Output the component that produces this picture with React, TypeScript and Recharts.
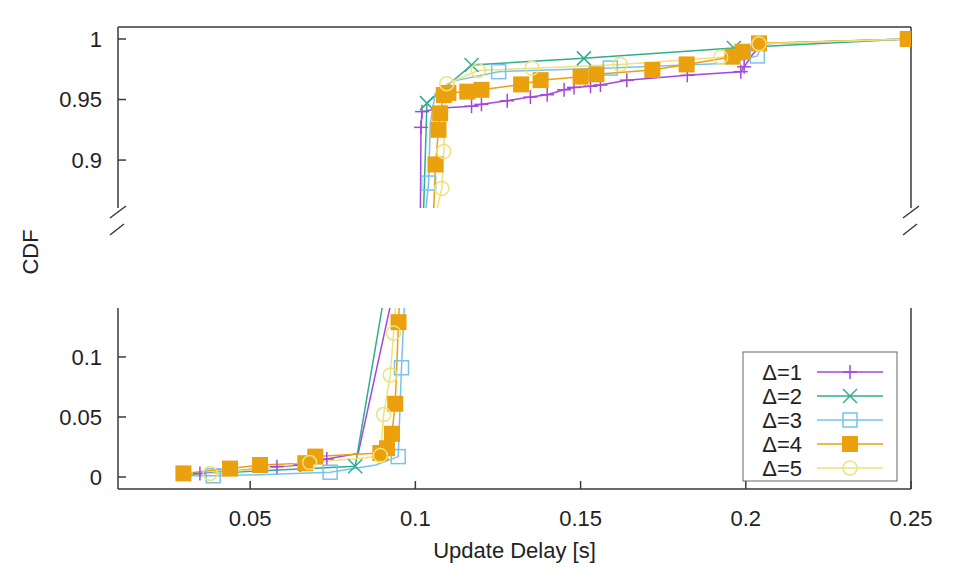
import React from "react";
import { ComposedChart, Line, Scatter, XAxis, YAxis } from "recharts";

type Pt = { x: number; y: number };
const pts = (a: number[][]): Pt[] => a.map(([x, y]) => ({ x, y }));

const xTicks = [0.05, 0.1, 0.15, 0.2, 0.25];
const topTicks = [0.9, 0.95, 1];
const bottomTicks = [0, 0.05, 0.1];

const names = ["Δ=1", "Δ=2", "Δ=3", "Δ=4", "Δ=5"];
const colors = ["#a347e0", "#2fae8c", "#78c2ee", "#eba00e", "#eee27a"];
const shapes = ["plus", "cross", "square", "filled", "circle"];

// delta = 1
const d1Line = pts([
  [0.03, 0.002], [0.0348, 0.003], [0.045, 0.005], [0.0581, 0.0086], [0.0652, 0.01],
  [0.0732, 0.015], [0.0827, 0.0196], [0.093, 0.15], [0.1015, 0.85], [0.1017, 0.927],
  [0.102, 0.94], [0.108, 0.943], [0.117, 0.9445], [0.12, 0.946], [0.1278, 0.949],
  [0.1348, 0.952], [0.1399, 0.954], [0.145, 0.958], [0.148, 0.96], [0.153, 0.961],
  [0.156, 0.962], [0.164, 0.966], [0.1823, 0.97], [0.1985, 0.973], [0.1995, 0.977],
  [0.202, 0.987], [0.205, 0.996], [0.249, 1.0],
]);
const d1Marks = pts([
  [0.0348, 0.003], [0.0581, 0.0086], [0.0652, 0.01], [0.0732, 0.015], [0.1017, 0.927],
  [0.102, 0.94], [0.117, 0.9445], [0.12, 0.946], [0.1278, 0.949], [0.1348, 0.952],
  [0.1399, 0.954], [0.145, 0.958], [0.148, 0.96], [0.153, 0.961], [0.156, 0.962],
  [0.164, 0.966], [0.1823, 0.97], [0.1985, 0.973], [0.1995, 0.977],
]);

// delta = 2
const d2Line = pts([
  [0.029, 0.002], [0.045, 0.004], [0.06, 0.006], [0.0818, 0.009], [0.0905, 0.15],
  [0.1025, 0.86], [0.1035, 0.947], [0.117, 0.9785], [0.151, 0.984], [0.1964, 0.9925],
  [0.2035, 0.9937], [0.249, 1.0],
]);
const d2Marks = pts([
  [0.0818, 0.009], [0.1035, 0.947], [0.117, 0.9785], [0.151, 0.984], [0.1964, 0.9925],
]);

// delta = 3
const d3Line = pts([
  [0.029, 0.001], [0.0388, 0.001], [0.055, 0.002], [0.0742, 0.004], [0.088, 0.01],
  [0.0948, 0.017], [0.0958, 0.091], [0.0968, 0.15], [0.1032, 0.86], [0.104, 0.881],
  [0.1045, 0.93], [0.106, 0.955], [0.111, 0.965], [0.1252, 0.973], [0.159, 0.976],
  [0.195, 0.98], [0.2035, 0.986], [0.205, 0.996], [0.249, 1.0],
]);
const d3Marks = pts([
  [0.0388, 0.001], [0.0742, 0.004], [0.0948, 0.017], [0.0958, 0.091], [0.104, 0.881],
  [0.1252, 0.973], [0.159, 0.976], [0.2035, 0.986],
]);

// delta = 4
const d4Line = pts([
  [0.0298, 0.003], [0.0439, 0.007], [0.053, 0.01], [0.0667, 0.0115], [0.0697, 0.017],
  [0.0894, 0.02], [0.0914, 0.024], [0.0929, 0.036], [0.0939, 0.061], [0.0949, 0.129],
  [0.1061, 0.8964], [0.107, 0.925], [0.1075, 0.9386], [0.1086, 0.9537], [0.11, 0.9555],
  [0.1157, 0.9565], [0.12, 0.958], [0.132, 0.9625], [0.1379, 0.966], [0.15, 0.9689],
  [0.1548, 0.9708], [0.1717, 0.9744], [0.1821, 0.979], [0.196, 0.9854], [0.199, 0.9895],
  [0.204, 0.9964], [0.249, 1.0],
]);
const d4Marks = d4Line;

// delta = 5
const d5Line = pts([
  [0.029, 0.003], [0.0379, 0.003], [0.05, 0.006], [0.068, 0.012], [0.085, 0.016],
  [0.0894, 0.018], [0.0904, 0.052], [0.0924, 0.085], [0.0934, 0.12], [0.0945, 0.16],
  [0.1066, 0.86], [0.108, 0.8766], [0.1086, 0.907], [0.109, 0.944], [0.1095, 0.963],
  [0.119, 0.974], [0.1353, 0.9758], [0.162, 0.979], [0.1924, 0.985], [0.199, 0.989],
  [0.204, 0.996], [0.249, 1.0],
]);
const d5Marks = pts([
  [0.0379, 0.003], [0.068, 0.012], [0.0894, 0.018], [0.0904, 0.052], [0.0924, 0.085],
  [0.0934, 0.12], [0.108, 0.8766], [0.1086, 0.907], [0.1095, 0.963], [0.119, 0.974],
  [0.1353, 0.9758], [0.162, 0.979], [0.1924, 0.985], [0.204, 0.996],
]);

const lines = [d1Line, d2Line, d3Line, d4Line, d5Line];
const marks = [d1Marks, d2Marks, d3Marks, d4Marks, d5Marks];

const AXIS = "#3a3a3a";
const FONT = "'Liberation Sans', Arial, sans-serif";
const tickStyle = { fill: "#222", fontSize: 22, fontFamily: FONT };

function Marker({ kind, color, cx, cy }: { kind: string; color: string; cx: number; cy: number }) {
  if (cx == null || cy == null) return null;
  if (kind === "plus")
    return (
      <g stroke={color} strokeWidth={1.5}>
        <line x1={cx - 7} y1={cy} x2={cx + 7} y2={cy} />
        <line x1={cx} y1={cy - 7} x2={cx} y2={cy + 7} />
      </g>
    );
  if (kind === "cross")
    return (
      <g stroke={color} strokeWidth={1.5}>
        <line x1={cx - 7} y1={cy - 7} x2={cx + 7} y2={cy + 7} />
        <line x1={cx - 7} y1={cy + 7} x2={cx + 7} y2={cy - 7} />
      </g>
    );
  if (kind === "square")
    return <rect x={cx - 7} y={cy - 7} width={14} height={14} fill="none" stroke={color} strokeWidth={1.5} />;
  if (kind === "filled") return <rect x={cx - 8} y={cy - 8} width={16} height={16} fill={color} />;
  return <circle cx={cx} cy={cy} r={7} fill="none" stroke={color} strokeWidth={1.5} />;
}

function Panel({ part }: { part: "top" | "bottom" }) {
  const top = part === "top";
  const yDomain: [number, number] = top ? [0.8604, 1.0099] : [-0.01, 0.1408];
  const yTicks = top ? topTicks : bottomTicks;
  const inside = (p: Pt) => p.y >= yDomain[0] && p.y <= yDomain[1];
  return (
    <ComposedChart
      width={958}
      height={top ? 240 : 320}
      margin={top ? { top: 26, right: 46, bottom: 32, left: 0 } : { top: 48, right: 46, bottom: 31, left: 0 }}
    >
      <XAxis
        xAxisId="x"
        type="number"
        dataKey="x"
        domain={[0.01, 0.25]}
        allowDataOverflow
        orientation={top ? "top" : "bottom"}
        ticks={xTicks}
        height={top ? 1 : 60}
        tick={top ? false : tickStyle}
        tickLine={top ? false : { stroke: AXIS, strokeWidth: 1.5 }}
        tickSize={-8}
        tickMargin={29}
        axisLine={{ stroke: AXIS, strokeWidth: 1.5 }}
        label={
          top
            ? undefined
            : { value: "Update Delay [s]", position: "bottom", offset: -7, fill: "#222", fontSize: 22, fontFamily: FONT }
        }
      />
      <YAxis
        yAxisId="y"
        type="number"
        dataKey="y"
        domain={yDomain}
        allowDataOverflow
        ticks={yTicks}
        width={118}
        tick={tickStyle}
        tickLine={{ stroke: AXIS, strokeWidth: 1.5 }}
        tickSize={-8}
        tickMargin={24}
        axisLine={{ stroke: AXIS, strokeWidth: 1.5 }}
      />
      <YAxis
        yAxisId="r"
        orientation="right"
        type="number"
        domain={yDomain}
        allowDataOverflow
        ticks={yTicks}
        width={1}
        tick={false}
        tickLine={{ stroke: AXIS, strokeWidth: 1.5 }}
        tickSize={-8}
        axisLine={{ stroke: AXIS, strokeWidth: 1.5 }}
      />
      {lines.map((data, i) => (
        <Line
          key={"l" + i}
          xAxisId="x"
          yAxisId="y"
          data={data}
          dataKey="y"
          stroke={colors[i]}
          strokeWidth={1.5}
          dot={false}
          activeDot={false}
          isAnimationActive={false}
        />
      ))}
      {marks.map((data, i) => (
        <Scatter
          key={"s" + i}
          xAxisId="x"
          yAxisId="y"
          data={data.filter(inside)}
          fill={colors[i]}
          isAnimationActive={false}
          shape={(p: any) => <Marker kind={shapes[i]} color={colors[i]} cx={p.cx} cy={p.cy} />}
        />
      ))}
    </ComposedChart>
  );
}

function Overlay() {
  const lx = 743;
  const ly = 352;
  return (
    <svg width={958} height={580} style={{ position: "absolute", left: 0, top: 0, pointerEvents: "none" }}>
      <g stroke={AXIS} strokeWidth={1.5}>
        <line x1={110} y1={218} x2={126} y2={206} />
        <line x1={110} y1={235} x2={124} y2={224} />
        <line x1={903} y1={218} x2={919} y2={206} />
        <line x1={903} y1={235} x2={917} y2={224} />
      </g>
      <text
        x={30}
        y={252}
        transform="rotate(-90 30 252)"
        textAnchor="middle"
        dominantBaseline="central"
        fill="#222"
        fontSize={22}
        fontFamily={FONT}
      >
        CDF
      </text>
      <rect x={lx} y={ly} width={154} height={129} fill="#fff" stroke="#666" strokeWidth={1} />
      {names.map((n, i) => {
        const cy = ly + 20 + i * 24;
        return (
          <g key={n}>
            <text x={lx + 59} y={cy} textAnchor="end" dominantBaseline="central" fill="#222" fontSize={22} fontFamily={FONT}>
              {n}
            </text>
            <line x1={lx + 74} y1={cy} x2={lx + 140} y2={cy} stroke={colors[i]} strokeWidth={1.5} />
            <Marker kind={shapes[i]} color={colors[i]} cx={lx + 107} cy={cy} />
          </g>
        );
      })}
    </svg>
  );
}

export default function App() {
  return (
    <div style={{ position: "absolute", left: 0, top: 0, width: 958, height: 580, background: "#fff" }}>
      <div style={{ position: "absolute", left: 0, top: 0 }}>
        <Panel part="top" />
      </div>
      <div style={{ position: "absolute", left: 0, top: 260 }}>
        <Panel part="bottom" />
      </div>
      <Overlay />
    </div>
  );
}
